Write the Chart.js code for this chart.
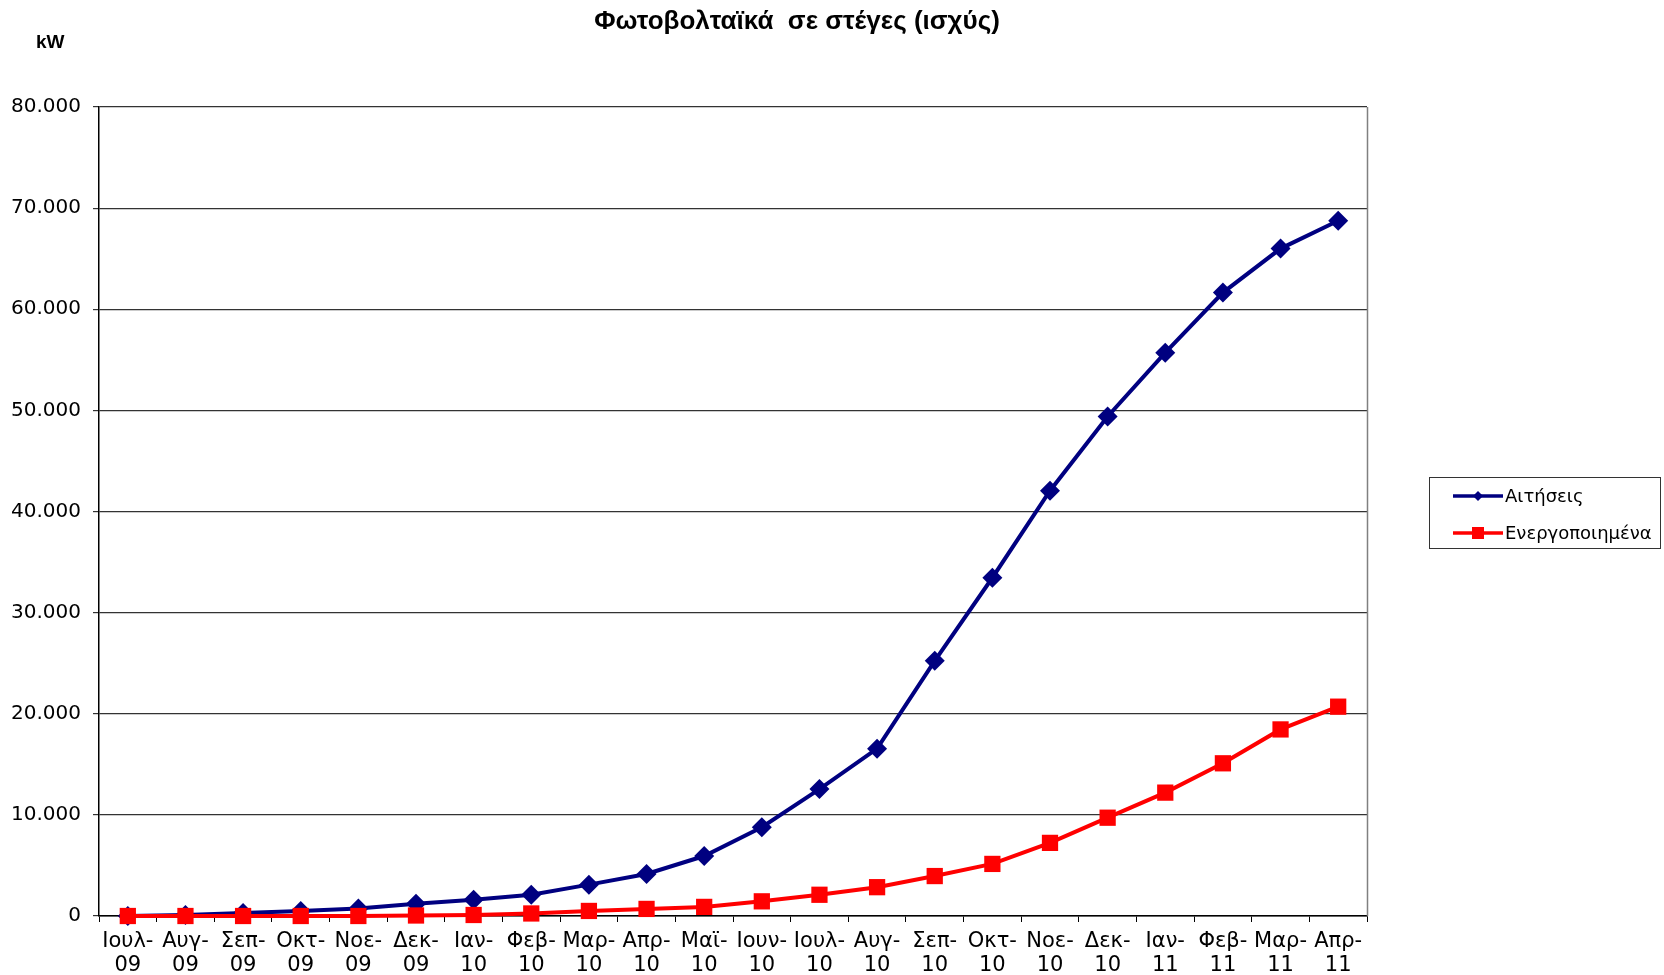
<!DOCTYPE html>
<html>
<head>
<meta charset="utf-8">
<script src="https://cdn.jsdelivr.net/npm/chart.js@4/dist/chart.umd.min.js"></script>
<style>
  html, body { margin: 0; padding: 0; background: #fff; }
  #wrap { position: relative; width: 1664px; height: 975px; }
</style>
</head>
<body>
<div id="wrap"><canvas id="c" width="1664" height="975"></canvas></div>
<script>
// Months, Ιούλιος 2009 – Απρίλιος 2011
const months = ['Ιουλ-09','Αυγ-09','Σεπ-09','Οκτ-09','Νοε-09','Δεκ-09','Ιαν-10','Φεβ-10','Μαρ-10','Απρ-10','Μαϊ-10','Ιουν-10',
                'Ιουλ-10','Αυγ-10','Σεπ-10','Οκτ-10','Νοε-10','Δεκ-10','Ιαν-11','Φεβ-11','Μαρ-11','Απρ-11'];
// Cumulative power, kW
const aitiseis = [0, 100, 300, 500, 750, 1200, 1600, 2100, 3100, 4150, 5930, 8780,
                  12550, 16550, 25230, 33450, 42050, 49400, 55700, 61650, 66000, 68750];
const energopoiimena = [0, 0, 0, 0, 0, 50, 100, 250, 500, 700, 900, 1450,
                        2100, 2850, 3950, 5150, 7230, 9720, 12200, 15100, 18450, 20700];
const seriesNames = ['Αιτήσεις', 'Ενεργοποιημένα'];
const yTicks = [0, 10000, 20000, 30000, 40000, 50000, 60000, 70000, 80000];
const titleText = 'Φωτοβολταϊκά  σε στέγες (ισχύς)';
const unitText = 'kW';

const BLUE = '#000080';
const RED = '#ff0000';
const FONT = '"DejaVu Sans", Arial, sans-serif';

// Labels split into two lines: "Ιουλ-" / "09"
const xLabels = months.map(m => { const i = m.indexOf('-'); return [m.slice(0, i + 1), m.slice(i + 1)]; });
const fmt = v => String(v).replace(/\B(?=(\d{3})+(?!\d))/g, '.');

const decorations = {
  id: 'decorations',
  beforeDatasetsDraw(chart) {
    const ctx = chart.ctx;
    const a = chart.chartArea;
    ctx.save();
    // right border of the plot area
    ctx.strokeStyle = '#808080';
    ctx.lineWidth = 1.5;
    ctx.beginPath();
    ctx.moveTo(a.right + 0.5, a.top);
    ctx.lineTo(a.right + 0.5, a.bottom);
    ctx.stroke();
    ctx.restore();
  },
  afterDraw(chart) {
    const ctx = chart.ctx;
    ctx.save();
    // title and unit
    ctx.fillStyle = '#000';
    ctx.textAlign = 'center';
    ctx.textBaseline = 'middle';
    ctx.font = 'bold 26px "Liberation Sans", Arial, sans-serif';
    ctx.fillText(titleText, 797, 22);
    ctx.textAlign = 'left';
    ctx.font = 'bold 19px "Liberation Sans", Arial, sans-serif';
    ctx.fillText(unitText, 36, 43);

    // legend
    const bx = 1429, by = 477, bw = 231, bh = 71;
    ctx.strokeStyle = '#333';
    ctx.lineWidth = 1;
    ctx.strokeRect(bx + 0.5, by + 0.5, bw, bh);
    const rows = [
      { y: 496, color: BLUE, shape: 'diamond', name: seriesNames[0] },
      { y: 533, color: RED, shape: 'square', name: seriesNames[1] }
    ];
    ctx.font = '18px ' + FONT;
    ctx.textBaseline = 'middle';
    rows.forEach(r => {
      ctx.strokeStyle = r.color;
      ctx.fillStyle = r.color;
      ctx.lineWidth = 3.5;
      ctx.beginPath();
      ctx.moveTo(1453, r.y);
      ctx.lineTo(1503, r.y);
      ctx.stroke();
      const cx = 1478;
      ctx.beginPath();
      if (r.shape === 'diamond') {
        ctx.moveTo(cx, r.y - 5); ctx.lineTo(cx + 5, r.y); ctx.lineTo(cx, r.y + 5); ctx.lineTo(cx - 5, r.y);
        ctx.closePath(); ctx.fill();
      } else {
        ctx.fillRect(cx - 6, r.y - 6, 12, 12);
      }
      ctx.fillStyle = '#000';
      ctx.fillText(r.name, 1505, r.y + 1);
    });
    ctx.restore();
  }
};

new Chart(document.getElementById('c'), {
  type: 'line',
  data: {
    labels: xLabels,
    datasets: [
      {
        label: seriesNames[0],
        data: aitiseis,
        borderColor: BLUE,
        backgroundColor: BLUE,
        borderWidth: 4,
        pointStyle: 'rectRot',
        pointRadius: 10,
        pointBorderWidth: 0,
        tension: 0,
        clip: false,
        order: 2
      },
      {
        label: seriesNames[1],
        data: energopoiimena,
        borderColor: RED,
        backgroundColor: RED,
        borderWidth: 4,
        pointStyle: 'rect',
        pointRadius: 11.5,
        pointBorderWidth: 0,
        tension: 0,
        clip: false,
        order: 1
      }
    ]
  },
  options: {
    responsive: false,
    animation: false,
    layout: { padding: { left: 0, top: 107, right: 297, bottom: 0 } },
    plugins: {
      legend: { display: false },
      title: { display: false },
      tooltip: { enabled: false }
    },
    scales: {
      x: {
        type: 'category',
        offset: true,
        grid: { display: true, drawOnChartArea: false, drawTicks: true, tickLength: 6, color: '#000', offset: true },
        border: { display: true, color: '#000', width: 1.5 },
        ticks: {
          color: '#000',
          font: { family: FONT, size: 21, lineHeight: 1.12 },
          padding: 8,
          maxRotation: 0,
          minRotation: 0,
          autoSkip: false
        },
        afterFit(scale) { scale.height = 59; }
      },
      y: {
        min: 0,
        max: 80000,
        afterBuildTicks(scale) { scale.ticks = yTicks.map(v => ({ value: v })); },
        grid: { color: '#333', lineWidth: 1.2, drawTicks: true, tickLength: 6 },
        border: { display: true, color: '#000', width: 1.5 },
        ticks: {
          color: '#000',
          font: { family: FONT, size: 20 },
          padding: 12,
          callback: v => fmt(v)
        },
        afterFit(scale) { scale.width = 99; }
      }
    }
  },
  plugins: [decorations]
});
</script>
</body>
</html>
